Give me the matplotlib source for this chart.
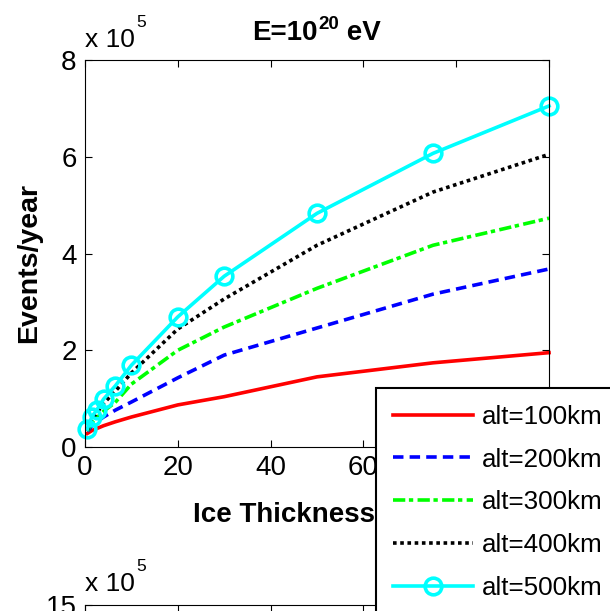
import matplotlib
matplotlib.use('Agg')
import matplotlib.pyplot as plt

plt.rcParams['font.family'] = ['Liberation Sans', 'DejaVu Sans']

# ice thickness and events/year (units of 1e5)
thickness = [0.5, 1.5, 2.5, 4, 6.5, 10, 20, 30, 50, 75, 100]
alt100 = [0.28, 0.34, 0.38, 0.44, 0.52, 0.62, 0.87, 1.04, 1.45, 1.74, 1.95]
alt200 = [0.32, 0.44, 0.52, 0.62, 0.76, 0.93, 1.43, 1.90, 2.46, 3.16, 3.68]
alt300 = [0.33, 0.50, 0.60, 0.74, 0.92, 1.30, 2.00, 2.48, 3.28, 4.17, 4.73]
alt400 = [0.35, 0.58, 0.70, 0.90, 1.15, 1.53, 2.44, 3.06, 4.17, 5.27, 6.05]
alt500 = [0.37, 0.63, 0.76, 0.99, 1.26, 1.69, 2.69, 3.53, 4.83, 6.07, 7.05]
labels = ['alt=100km', 'alt=200km', 'alt=300km', 'alt=400km', 'alt=500km']

W, H = 610, 611
fig = plt.figure(figsize=(W/100, H/100), dpi=100)
ax = fig.add_axes([85/W, 1-447/H, 464/W, 387/H])

lw = 2.6
ax.plot(thickness, alt100, '-', color='red', lw=lw, label=labels[0], clip_on=False)
ax.plot(thickness, alt200, ls=(0, (2.9, 1.7)), color='blue', lw=lw, label=labels[1], clip_on=False)
ax.plot(thickness, alt300, ls=(0, (3.4, 1.0, 1.2, 1.2)), color=(0, 1, 0), lw=lw,
        label=labels[2], clip_on=False)
ax.plot(thickness, alt400, ls=(0, (1, 1)), color='black', lw=lw, label=labels[3], clip_on=False)
ax.plot(thickness, alt500, '-o', color='cyan', lw=lw, ms=12, mew=2.6,
        mfc='none', label=labels[4], clip_on=False)

ax.set_xlim(0, 100)
ax.set_ylim(0, 8)
ax.set_xticks([0, 20, 40, 60, 80, 100])
ax.set_yticks([0, 2, 4, 6, 8])
ax.tick_params(direction='in', top=True, right=True, labelsize=20, length=5, pad=6)
ax.set_xlabel('Ice Thickness (km)', fontsize=20, fontweight='bold', va='top')
ax.xaxis.set_label_coords(0.5, (447-501.5)/387)
ax.set_ylabel('Events/year', fontsize=20.5, fontweight='bold')
ax.yaxis.set_label_coords((42-85)/464, (447-263)/387)

# title E=10^20 eV built from pieces
t1 = ax.annotate('E=10', xy=(252/W, 1-39.5/H), xycoords='figure fraction',
                 ha='left', va='baseline', fontsize=20, fontweight='bold',
                 annotation_clip=False)
t2 = ax.annotate('20', xy=(1, 0), xycoords=t1, xytext=(0.5, 9),
                 textcoords='offset points', ha='left', va='bottom',
                 fontsize=13.5, fontweight='bold', annotation_clip=False)
ax.annotate(' eV', xy=(1, 0), xycoords=(t2, t1), ha='left', va='bottom',
            fontsize=20, fontweight='bold', annotation_clip=False)

fig.text(85/W, 1-47/H, 'x 10', fontsize=19, va='baseline', ha='left')
fig.text(136/W, 1-27/H, '5', fontsize=12.5, va='baseline', ha='left')

# lower panel (only its top edge shows)
ax2 = fig.add_axes([85/W, 1-605/H-387/H, 464/W, 387/H])
ax2.set_xlim(0, 100)
ax2.set_ylim(0, 15)
ax2.set_xticks([0, 20, 40, 60, 80, 100])
ax2.set_yticks([0, 5, 10, 15])
ax2.set_yticklabels(['', '', '', '15'])
ax2.tick_params(direction='in', top=True, right=True, labelbottom=False,
                labelsize=20, length=5, pad=6)
fig.text(85/W, 1-591/H, 'x 10', fontsize=19, va='baseline', ha='left')
fig.text(136/W, 1-571/H, '5', fontsize=12.5, va='baseline', ha='left')

h, l = ax.get_legend_handles_labels()
leg = fig.legend(h, l, loc='upper left', bbox_to_anchor=(376/W, 1-388/H),
                 borderaxespad=0, fancybox=False, framealpha=1, edgecolor='black',
                 fontsize=18.7, handlelength=3.1, handletextpad=0.31,
                 borderpad=0.65, labelspacing=0.72)
leg.get_frame().set_linewidth(1.5)

fig.savefig('out.png', dpi=100)
